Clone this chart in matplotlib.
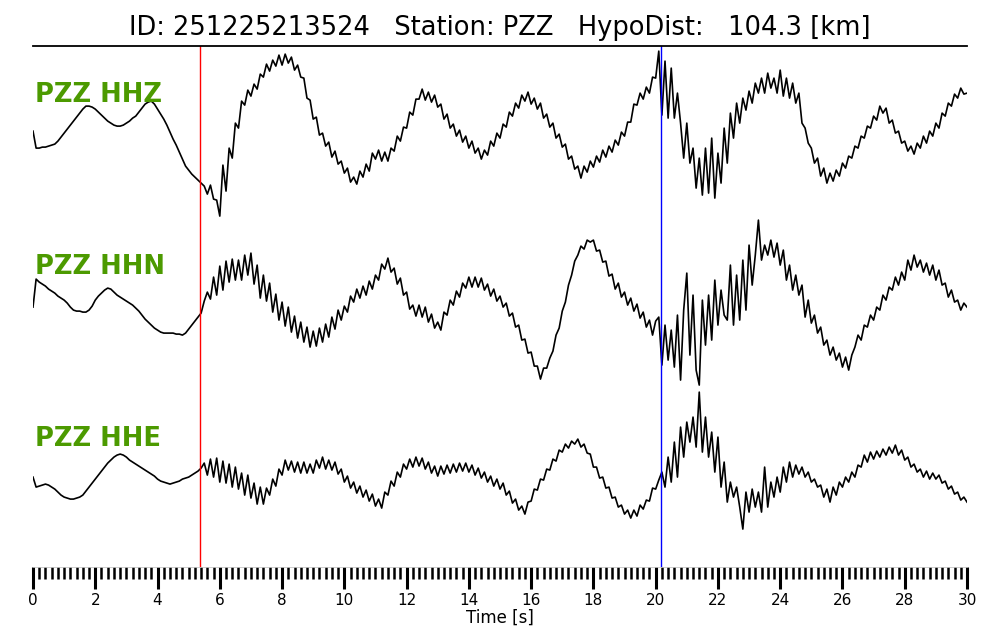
import numpy as np
import matplotlib
matplotlib.use('Agg')
import matplotlib.pyplot as plt

# event / station info
event_id = '251225213524'
station = 'PZZ'
hypo_dist = 104.3
channels = ['HHZ', 'HHN', 'HHE']

# sampling (s) and picks (s)
dt = 0.1
p_pick = 5.36
s_pick = 20.17

# traces, amplitude in arbitrary (normalised) units, one sample every dt
hhz = [2, -15, -15, -14, -14, -13, -12, -11, -8, -4, 0, 4, 8, 12, 16, 20, 24, 27, 27, 26,
       24, 21, 18, 15, 12, 10, 8, 7, 7, 8, 10, 12, 15, 17, 21, 25, 29, 31, 32, 29,
       24, 19, 14, 8, 1, -6, -12, -19, -26, -33, -37, -41, -44, -47, -50,
       -53, -61, -52, -66, -67, -83, -32, -58, -15, -25, 10, 5,
       32, 28, 43, 37, 49, 44, 59, 56, 69, 62,
       73, 67, 78, 68, 79, 70, 76, 63, 68, 56,
       55, 35, 33, 14, 16, -2, 0, -13, -9, -24,
       -18, -31, -28, -40, -35, -49, -44, -51, -38, -44,
       -31, -38, -20, -26, -17, -28, -19, -28, -15, -18,
       -3, -8, 6, 5, 21, 18, 34, 34, 44, 33,
       41, 31, 38, 26, 29, 14, 19, 5, 9, -3,
       3, -9, -3, -15, -8, -20, -15, -26, -17, -22,
       -8, -13, 0, -5, 9, 6, 21, 17, 30, 25,
       38, 32, 41, 29, 35, 24, 30, 15, 19, 6,
       10, -5, -1, -14, -11, -26, -23, -36, -33, -45,
       -33, -39, -28, -34, -23, -29, -17, -24, -13, -19,
       -7, -12, 1, -3, 11, 11, 29, 28, 40, 34,
       46, 40, 56, 55,
       82, 18, 72, 15, 65, 15, 40, 10, -25, 10,
       -30, -15, -55, -25, -62, -15, -60, -5, -65, -20,
       -50, 5, -30, 20, -5, 30, 10, 35, 23, 42,
       30, 50, 40, 55, 40, 60, 45, 55, 40, 63,
       37, 55, 35, 50, 30, 40, 10, 5, -10, -15,
       -30, -25, -43, -35, -50, -40, -48, -37, -43, -30,
       -35, -23, -25, -13, -15, -3, -5, 7, 5, 17,
       13, 27, 20, 25, 10, 13, 0, 2, -10, -8,
       -18, -13, -21, -10, -15, -3, -10, 2, -3, 10,
       5, 20, 17, 30, 27, 39, 35, 45, 39, 40]

hhn = [-2, 26, 23, 21, 19, 16, 14, 12, 9, 7, 5, 2, -2, -5, -6, -6, -7, -7, -5, -1,
       5, 9, 12, 15, 17, 16, 13, 10, 8, 6, 4, 2, 0, -3, -6, -10, -14, -17, -20, -23,
       -25, -27, -28, -28, -28, -28, -29, -29, -30, -28, -24, -20, -16, -12, -8,
       4, 13, 6, 28, 10,
       39, 15, 44, 23, 46, 25, 45, 25, 50, 30,
       52, 21, 40, 7, 30, 4, 22, -7, 11, -15,
       3, -21, -2, -27, -11, -33, -17, -37, -22, -42,
       -26, -41, -23, -37, -19, -32, -12, -24, -5, -15,
       -1, -7, 9, 3, 16, 7, 19, 10, 24, 16,
       30, 25, 41, 36, 47, 33, 37, 21, 27, 10,
       13, -4, 0, -11, 0, -12, -2, -17, -9, -23,
       -17, -25, -7, -10, 5, 0, 14, 8, 22, 17,
       28, 18, 28, 18, 27, 15, 21, 9, 16, 4,
       9, -2, 2, -11, -8, -22, -20, -35, -34, -48,
       -47, -61, -61, -74, -63, -63, -53, -46, -30, -23,
       -6, 3, 20, 30, 44, 50, 59, 56, 65, 63,
       65, 54, 55, 43, 44, 29, 31, 16, 22, 8,
       13, 0, 7, -6, 1, -13, -7, -22, -15, -30,
       -16, -12, -60, -20, -55, -25, -62, -10, -75, -5,
       32, -50, 10, -65, -80, 5, -40, 10, -35, 25,
       -20, 15, -10, -15, 40, -20, 30, -15, 45, -5,
       60, 20, 50, 85, 45, 60, 50, 65, 48, 62,
       40, 55, 25, 40, 15, 30, 10, 20, -12, 5,
       -18, -10, -28, -22, -40, -35, -50, -42, -55, -48,
       -62, -52, -65, -50, -42, -30, -35, -20, -22, -10,
       -15, -2, -5, 10, 5, 18, 15, 28, 20, 33,
       25, 45, 35, 50, 38, 45, 33, 42, 30, 40,
       25, 35, 20, 22, 8, 15, 3, 5, -5, 2,
       -2]

hhe = [0, -10, -9, -8, -7, -8, -10, -12, -15, -18, -20, -21, -22, -22, -21, -20, -18, -14, -10, -6,
       -2, 2, 6, 10, 14, 17, 20, 22, 23, 22, 20, 17, 15, 13, 11, 9, 7, 5, 3, 1,
       -2, -4, -5, -6, -7, -6, -5, -4, -2, -1, 0, 2, 4, 6, 9,
       14, 2, 18, 0, 19,
       -5, 16, -6, 13, -10, 10, -12, 4, -18, 2,
       -21, -6, -27, -10, -27, -11, -18, -2, -9, 8,
       2, 17, 7, 16, 5, 15, 4, 15, 4, 13,
       4, 17, 9, 20, 8, 17, 7, 15, 3, 8,
       -5, 1, -11, -5, -16, -9, -20, -13, -24, -17,
       -29, -22, -31, -15, -18, -4, -9, 5, 0, 13,
       8, 18, 10, 20, 11, 19, 8, 15, 4, 11,
       1, 11, 3, 12, 4, 13, 5, 14, 6, 14,
       5, 12, 2, 9, -1, 5, -5, 1, -9, -2,
       -12, -6, -18, -14, -26, -22, -33, -29, -37, -25,
       -24, -12, -13, -2, -3, 8, 7, 18, 16, 27,
       25, 33, 29, 36, 33, 38, 30, 33, 24, 23,
       10, 10, -1, 0, -11, -10, -21, -20, -30, -28,
       -37, -33, -41, -33, -39, -28, -32, -23, -24, -11,
       -12, -3, 5, -10, 20, -5, 35, 0, 50, 20,
       55, 35, 60, 30, 85, 25, 60, 20, 45, 5,
       40, -10, 15, -25, -5, -20, -10, -30, -52, -15,
       -35, -12, -30, -15, -35, 10, -30, -5, -20, 0,
       -15, 10, -5, 15, 0, 12, 3, 10, 0, 5,
       -5, -2, -10, -8, -20, -12, -25, -10, -18, -5,
       -10, 0, -5, 5, 0, 12, 10, 22, 15, 25,
       18, 26, 20, 28, 22, 30, 24, 32, 22, 27,
       17, 20, 10, 13, 5, 8, 0, 6, -2, 4,
       -2, 2, -6, -4, -12, -9, -17, -15, -23, -20,
       -25]

traces = [hhz, hhn, hhe]

fig = plt.figure(figsize=(10, 6.4), dpi=100)
ax = fig.add_axes([0.033, 0.114, 0.934, 0.814])

gain = 1.0 / 172
for i, (cha, tr) in enumerate(zip(channels, traces)):
    off = len(traces) - 1 - i
    tr = np.array(tr, dtype=float)
    t = np.arange(len(tr)) * dt
    ax.plot(t, off + tr * gain, color='black', lw=1.2)
    ax.text(0.06, off + 0.18, station + ' ' + cha, color='#4c9a00',
            fontsize=18.5, fontweight='bold', ha='left', va='baseline')

ax.axvline(p_pick, color='red', lw=1.0)
ax.axvline(s_pick, color='blue', lw=1.0)

ax.set_xlim(0, 30)
ax.set_ylim(-0.523, 2.506)
ax.set_yticks([])
ax.spines['left'].set_visible(False)
ax.spines['right'].set_visible(False)
ax.spines['top'].set_linewidth(1.3)
ax.spines['bottom'].set_linewidth(0.5)
ax.spines['bottom'].set_color('#bbbbbb')

ax.set_xticks(np.arange(0, 31, 2))
ax.set_xticks(np.arange(0, 30.01, 0.2), minor=True)
ax.tick_params(axis='x', which='major', length=16, width=2.2, labelsize=11, pad=3)
ax.tick_params(axis='x', which='minor', length=8.5, width=1.8)
ax.set_xlabel('Time [s]', fontsize=12, labelpad=0)

ax.set_title('ID: %s   Station: %s   HypoDist:   %.1f [km]' % (event_id, station, hypo_dist),
             fontsize=18.5, pad=8)

fig.savefig('out.png', dpi=100)
